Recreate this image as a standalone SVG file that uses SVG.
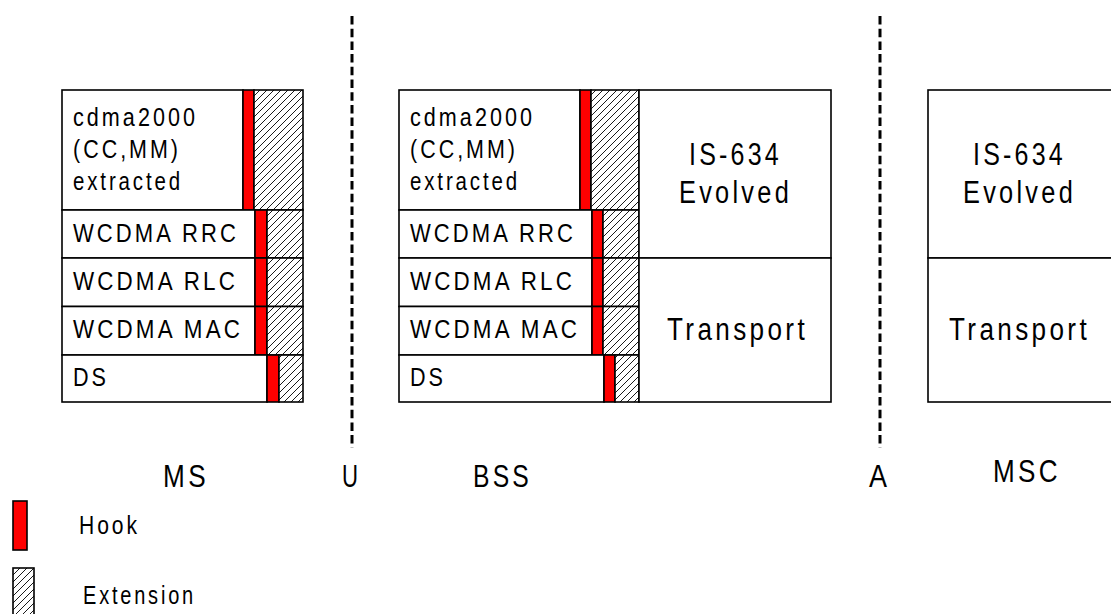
<svg xmlns="http://www.w3.org/2000/svg" width="1111" height="614" viewBox="0 0 1111 614">
<defs>
<pattern id="hatch" patternUnits="userSpaceOnUse" width="7" height="7">
<rect width="7" height="7" fill="#fff"/>
<path d="M-1,8 L8,-1 M-1,1 L1,-1 M6,8 L8,6" stroke="#000" stroke-width="0.9"/>
</pattern>
<style>
.box{fill:#fff;stroke:#000;stroke-width:1.6}
.hook{fill:#ff0000;stroke:#000;stroke-width:1.6}
.ext{fill:url(#hatch);stroke:#000;stroke-width:1.6}
.dash{stroke:#000;stroke-width:3;stroke-dasharray:8.5 4.2;fill:none}
.t{font-family:"Liberation Sans",Arial,sans-serif;fill:#000}
.s{font-size:25px;letter-spacing:3.5px}
.m{font-size:31px;letter-spacing:4px}
.one{letter-spacing:0}
</style>
</defs>

<g id="connectors">
<line class="dash" x1="352" y1="16" x2="352" y2="448"/>
<line class="dash" x1="880" y1="16" x2="880" y2="448"/>
</g>

<g id="ms">
<rect class="box" x="62" y="90" width="181" height="120"/>
<rect class="hook" x="243" y="90" width="11" height="120"/>
<rect class="ext" x="254" y="90" width="49" height="120"/>
<text class="t s" x="73" y="126" textLength="125" lengthAdjust="spacingAndGlyphs">cdma2000</text>
<text class="t s" x="73" y="158" textLength="108" lengthAdjust="spacingAndGlyphs">(CC,MM)</text>
<text class="t s" x="73" y="190" textLength="110" lengthAdjust="spacingAndGlyphs">extracted</text>

<rect class="box" x="62" y="210" width="193" height="48"/>
<rect class="hook" x="255" y="210" width="12" height="48"/>
<rect class="ext" x="267" y="210" width="36" height="48"/>
<text class="t s" x="73" y="242" textLength="166" lengthAdjust="spacingAndGlyphs">WCDMA RRC</text>

<rect class="box" x="62" y="258" width="193" height="48.5"/>
<rect class="hook" x="255" y="258" width="12" height="48.5"/>
<rect class="ext" x="267" y="258" width="36" height="48.5"/>
<text class="t s" x="73" y="290" textLength="165" lengthAdjust="spacingAndGlyphs">WCDMA RLC</text>

<rect class="box" x="62" y="306.5" width="193" height="48.5"/>
<rect class="hook" x="255" y="306.5" width="12" height="48.5"/>
<rect class="ext" x="267" y="306.5" width="36" height="48.5"/>
<text class="t s" x="73" y="338" textLength="170" lengthAdjust="spacingAndGlyphs">WCDMA MAC</text>

<rect class="box" x="62" y="355" width="205" height="47"/>
<rect class="hook" x="267" y="355" width="12" height="47"/>
<rect class="ext" x="279" y="355" width="24" height="47"/>
<text class="t s" x="73" y="386" textLength="36" lengthAdjust="spacingAndGlyphs">DS</text>
</g>

<g id="bss">
<rect class="box" x="399" y="90" width="181" height="120"/>
<rect class="hook" x="580" y="90" width="11" height="120"/>
<rect class="ext" x="591" y="90" width="48" height="120"/>
<text class="t s" x="410" y="126" textLength="125" lengthAdjust="spacingAndGlyphs">cdma2000</text>
<text class="t s" x="410" y="158" textLength="108" lengthAdjust="spacingAndGlyphs">(CC,MM)</text>
<text class="t s" x="410" y="190" textLength="110" lengthAdjust="spacingAndGlyphs">extracted</text>

<rect class="box" x="399" y="210" width="193" height="48"/>
<rect class="hook" x="592" y="210" width="11" height="48"/>
<rect class="ext" x="603" y="210" width="36" height="48"/>
<text class="t s" x="410" y="242" textLength="166" lengthAdjust="spacingAndGlyphs">WCDMA RRC</text>

<rect class="box" x="399" y="258" width="193" height="48.5"/>
<rect class="hook" x="592" y="258" width="11" height="48.5"/>
<rect class="ext" x="603" y="258" width="36" height="48.5"/>
<text class="t s" x="410" y="290" textLength="165" lengthAdjust="spacingAndGlyphs">WCDMA RLC</text>

<rect class="box" x="399" y="306.5" width="193" height="48.5"/>
<rect class="hook" x="592" y="306.5" width="11" height="48.5"/>
<rect class="ext" x="603" y="306.5" width="36" height="48.5"/>
<text class="t s" x="410" y="338" textLength="170" lengthAdjust="spacingAndGlyphs">WCDMA MAC</text>

<rect class="box" x="399" y="355" width="205" height="47"/>
<rect class="hook" x="604" y="355" width="11" height="47"/>
<rect class="ext" x="615" y="355" width="24" height="47"/>
<text class="t s" x="410" y="386" textLength="36" lengthAdjust="spacingAndGlyphs">DS</text>

<rect class="box" x="639" y="90" width="192" height="168"/>
<rect class="box" x="639" y="258" width="192" height="144"/>
<text class="t m" x="689" y="165" textLength="93" lengthAdjust="spacingAndGlyphs">IS-634</text>
<text class="t m" x="679" y="202.5" textLength="113" lengthAdjust="spacingAndGlyphs">Evolved</text>
<text class="t m" x="667" y="340" textLength="141" lengthAdjust="spacingAndGlyphs">Transport</text>
</g>

<g id="msc">
<rect class="box" x="928" y="90" width="184" height="168"/>
<rect class="box" x="928" y="258" width="184" height="144"/>
<text class="t m" x="973" y="165" textLength="93" lengthAdjust="spacingAndGlyphs">IS-634</text>
<text class="t m" x="963" y="202.5" textLength="113" lengthAdjust="spacingAndGlyphs">Evolved</text>
<text class="t m" x="949" y="340" textLength="141" lengthAdjust="spacingAndGlyphs">Transport</text>
</g>

<g id="labels">
<text class="t m" x="163" y="487" textLength="46" lengthAdjust="spacingAndGlyphs">MS</text>
<text class="t m one" x="342" y="487" textLength="16" lengthAdjust="spacingAndGlyphs">U</text>
<text class="t m" x="473" y="487" textLength="59" lengthAdjust="spacingAndGlyphs">BSS</text>
<text class="t m one" x="869" y="487" textLength="18" lengthAdjust="spacingAndGlyphs">A</text>
<text class="t m" x="993" y="482" textLength="68" lengthAdjust="spacingAndGlyphs">MSC</text>
</g>

<g id="legend">
<rect class="hook" x="13" y="501" width="14" height="49"/>
<text class="t s" x="79" y="534" textLength="61" lengthAdjust="spacingAndGlyphs">Hook</text>
<rect class="ext" x="13" y="568" width="21" height="50"/>
<text class="t s" x="83" y="604" textLength="113" lengthAdjust="spacingAndGlyphs">Extension</text>
</g>
</svg>
